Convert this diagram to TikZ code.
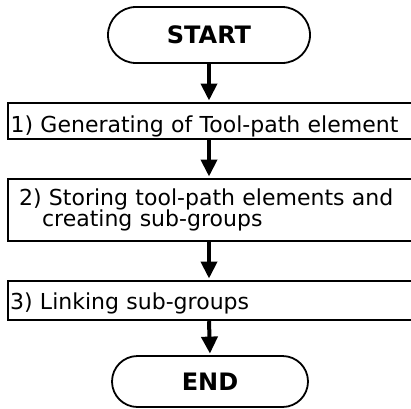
\documentclass[tikz,border=0pt]{standalone}
\usepackage{fontspec}
\setmainfont{DejaVu Sans}
\usetikzlibrary{arrows.meta,shapes.misc}
\begin{document}
\begin{tikzpicture}[x=1pt,y=-1pt,
  term/.style={draw, line width=1.8pt, rounded rectangle, inner sep=0pt,
    font=\fontsize{24}{28}\selectfont\bfseries},
  stepbox/.style={draw, line width=2.2pt, rectangle, anchor=north west,
    minimum width=412pt, inner ysep=0pt, align=left,
    font=\fontsize{22}{21.5}\selectfont},
  flow/.style={-{Triangle[width=16pt,length=17pt]}, line width=4pt, shorten >=1.5pt}]
\useasboundingbox (0,0) rectangle (411,408);
\clip (0,0) rectangle (411,408);
\node[term, minimum width=202pt, minimum height=56pt] (start) at (209,35) {START};
\node[stepbox, minimum height=36pt, inner xsep=2.5pt, text width=407pt,
  text height=24pt, text depth=2pt] (s1) at (7,102) {1) Generating of Tool-path element};
\node[stepbox, minimum height=62pt, inner xsep=11pt, text width=390pt] (s2) at (7,178)
  {2) Storing tool-path elements and\\\hspace*{23pt}creating sub-groups};
\node[stepbox, minimum height=39pt, inner xsep=2pt, text width=408pt,
  text height=19pt, text depth=2pt] (s3) at (7,280) {3) Linking sub-groups};
\node[term, minimum width=196pt, minimum height=51pt] (end) at (210,381.5) {END};
\draw[flow] (start.south) -- (start.south |- s1.north);
\draw[flow] (start.south |- s1.south) -- (start.south |- s2.north);
\draw[flow] (start.south |- s2.south) -- (start.south |- s3.north);
\draw[flow] (start.south |- s3.south) -- (end.north);
\end{tikzpicture}
\end{document}
